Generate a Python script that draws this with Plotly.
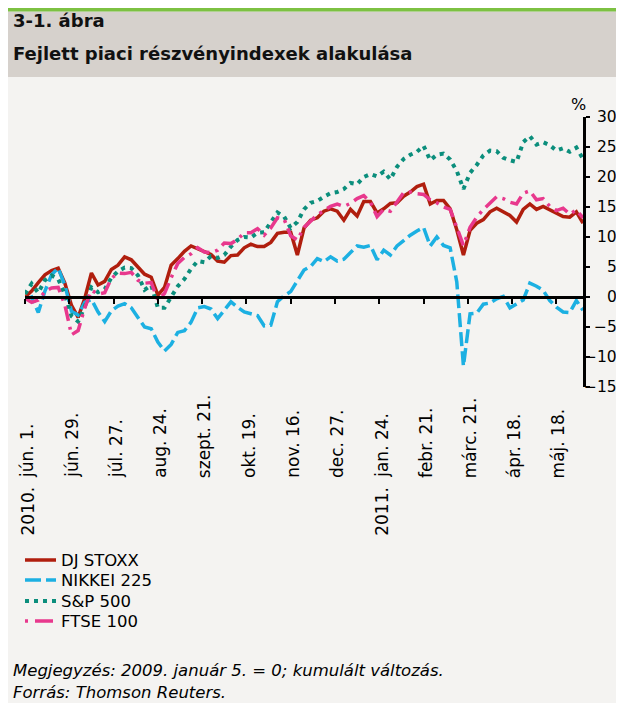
import plotly.graph_objects as go

# trading-day positions (every 3rd trading day, 2010 jún. 1. = 0)
day_index = list(range(0, 253, 3))

dj_stoxx = [
    0, 1, 2.4, 3.7, 4.4, 4.8, 2.3, -1.4, -3.4, -0.2,
    4, 2, 2.6, 4.6, 5.3, 6.7, 6.2, 4.9, 3.8, 3.3,
    0.3, 1.6, 5.3, 6.4, 7.6, 8.5, 8, 7.6, 7.1, 6,
    5.8, 6.9, 7, 8.2, 8.8, 8.4, 8.4, 9.1, 10.6, 10.8,
    10.8, 7, 11.5, 12.8, 13.2, 14.3, 14.7, 14.3, 12.8, 14.6,
    13.5, 15.9, 15.9, 14, 14.7, 15.6, 15.7, 16.8, 17.5, 18.4,
    18.8, 15.5, 16.1, 16.1, 14.7, 11.2, 7.0, 11.1, 12.3, 12.9,
    14.2, 14.8, 14.2, 13.6, 12.5, 14.6, 15.5, 14.6, 15.1, 14.5,
    14, 13.4, 13.3, 14.2, 12.3,
]

nikkei = [
    -0.5, 0, -2.6, 1, 3.7, 4.8, 2, -2.4, -3, -0.9,
    -0.4, -2.5, -4.1, -2.3, -1.5, -1.1, -1.8, -3.5, -5, -5.3,
    -7.5, -9, -7.9, -5.9, -5.6, -4.2, -1.8, -1.6, -2, -3.6,
    -2.3, -0.8, -1.7, -2.5, -2.8, -3.1, -4.8, -4.7, -0.8, 0.2,
    0.9, 2.8, 4.5, 5.1, 6.4, 5.9, 6.7, 6, 6.3, 7.4,
    8.5, 8.3, 8.6, 6.2, 7.8, 7, 8.5, 9.4, 10.3, 11,
    11.6, 8.5, 10, 8.6, 8.2, 2.5, -11.5, -2.8, -2.7, -1.2,
    -1, -0.3, 0.1, -1.8, -1.2, -0.5, 2.3, 1.8, 1.1, -0.6,
    -1.7, -2.5, -2.6, -0.6, -2.2,
]

sp500 = [
    0.5, 2.2, 0.7, 2.8, 3.6, 3, 0.4, -3.2, -4.1, -1.6,
    1.6, 0.8, 1.3, 3.2, 4.3, 4.9, 4.8, 3.6, 1.2, 2,
    -1.8, -1.8, 0, 1.8, 3, 4.7, 6, 5.8, 6.8, 6.5,
    7, 8.4, 9.5, 10, 9.9, 10.7, 10.8, 12.4, 14.1, 13.4,
    11.5, 12.5, 14.6, 15.7, 16, 16.7, 17.3, 17.5, 18, 19,
    18.8, 20, 20.5, 20.1, 20.9, 19.6, 21.7, 23, 23.7, 24.2,
    25.2, 22.8, 23.7, 23.9, 22.9, 21, 18, 20.7, 22, 23.6,
    24.4, 24.3, 23.2, 22.8, 22.5, 25.8, 26.8, 25.4, 25.8, 25.3,
    24.4, 24.8, 24.2, 24.9, 23,
]

ftse100 = [
    -0.2, -0.9, -0.5, 0.9, 1.5, 1.6, -1.3, -6.3, -5.6, -1.8,
    1.1, 0.5, 0.7, 3.1, 4, 3.9, 4.1, 2.8, 2.3, 2.4,
    -0.5, 0.6, 3.2, 5.6, 6.6, 7.2, 8.2, 7.5, 7.4, 7.8,
    9, 8.9, 9.6, 10.7, 10.7, 11.4, 10.3, 11.5, 13.2, 13,
    10.2, 9.5, 11.6, 12.6, 13.7, 14.4, 15.1, 15.5, 15.1, 15.6,
    16.4, 16.9, 15.8, 13.4, 14.6, 14.3, 15.8, 17.4, 17.5, 17.2,
    17.1, 16.2, 15.7, 15, 14.6, 11.5, 8.6, 11.6, 13.3, 14.6,
    15.6, 16.7, 16.4, 15.8, 15.5, 17.3, 17.7, 16.2, 16.4, 15.1,
    14.4, 14.8, 13.8, 14.5, 13.2,
]

series_names = ["DJ STOXX", "NIKKEI 225", "S&P 500", "FTSE 100"]
tick_days = [0, 20, 40, 60, 80, 100, 120, 140, 160, 180, 200, 220, 240]
tick_labels = ["jún. 1.", "jún. 29.", "júl. 27.", "aug. 24.", "szept. 21.",
               "okt. 19.", "nov. 16.", "dec. 27.", "jan. 24.", "febr. 21.",
               "márc. 21.", "ápr. 18.", "máj. 18."]
year_days = [0, 160]
year_labels = ["2010.", "2011."]
y_ticks = [30, 25, 20, 15, 10, 5, 0, -5, -10, -15]

FONT = "DejaVu Sans"
# the page body adds an 8px margin on every side; keep the figure inside the window
OFF = 8
W, H = 624 - 2 * OFF, 711 - 2 * OFF
PL, PR, PT, PB = 25, 583, 117, 387          # plot area in window pixels
MARGIN = dict(l=PL - OFF, r=OFF + W - PR, t=PT - OFF, b=OFF + H - PB, autoexpand=False)


def px_x(p):
    return (p - PL) / (PR - PL)


def px_y(p):
    return (PB - p) / (PB - PT)


styles = [
    dict(color="#B01E0E", width=3.5),
    dict(color="#1CB0E2", width=3.5, dash="14px,5px"),
    dict(color="#0B8E7C", width=4, dash="4px,5px"),
    dict(color="#E8388D", width=3.5, dash="15px,6px,3px,6px"),
]
legend_dash = [None, "16px,5px", "4px,5px", "3px,7px,18px,7px"]

fig = go.Figure()
for name, vals, st in zip(series_names, [dj_stoxx, nikkei, sp500, ftse100], styles):
    fig.add_trace(go.Scatter(x=day_index, y=vals, mode="lines", name=name, line=st))

shapes = [
    dict(type="rect", xref="paper", yref="paper", x0=px_x(OFF), x1=px_x(OFF + W),
         y0=px_y(77), y1=px_y(11.5), fillcolor="#D6D1CC", line=dict(width=0), layer="below"),
    dict(type="rect", xref="paper", yref="paper", x0=px_x(OFF), x1=px_x(OFF + W),
         y0=px_y(11.5), y1=px_y(OFF), fillcolor="#7DC142", line=dict(width=0), layer="below"),
]

ann = [
    dict(text="<b>3-1. ábra</b>", xref="paper", yref="paper", x=px_x(11), y=px_y(21),
         xanchor="left", yanchor="middle", showarrow=False, font=dict(size=18, color="#111")),
    dict(text="<b>Fejlett piaci részvényindexek alakulása</b>", xref="paper", yref="paper",
         x=px_x(11), y=px_y(53), xanchor="left", yanchor="middle", showarrow=False,
         font=dict(size=18, color="#111")),
    dict(text="%", xref="paper", yref="paper", x=px_x(578), y=px_y(104),
         xanchor="center", yanchor="middle", showarrow=False, font=dict(size=16, color="black")),
    dict(text="<i>Megjegyzés: 2009. január 5. = 0; kumulált változás.</i>", xref="paper",
         yref="paper", x=px_x(11), y=px_y(670), xanchor="left", yanchor="middle",
         showarrow=False, font=dict(size=16.5, color="black")),
    dict(text="<i>Forrás: Thomson Reuters.</i>", xref="paper", yref="paper",
         x=px_x(11), y=px_y(692), xanchor="left", yanchor="middle",
         showarrow=False, font=dict(size=16.5, color="black")),
]
for v in y_ticks:
    ann.append(dict(text=str(v).replace("-", "−"), xref="paper", yref="y", x=px_x(619), y=v,
                    xanchor="right", yanchor="middle", showarrow=False,
                    font=dict(size=15.5, color="black")))
for d, t in zip(tick_days, tick_labels):
    ann.append(dict(text=t, xref="x", yref="paper", x=d, y=px_y(480), textangle=-90,
                    xanchor="center", yanchor="bottom", xshift=2, showarrow=False,
                    font=dict(size=17, color="black")))
for d, t in zip(year_days, year_labels):
    ann.append(dict(text=t, xref="x", yref="paper", x=d, y=px_y(485), textangle=-90,
                    xanchor="center", yanchor="top", xshift=2, showarrow=False,
                    font=dict(size=17, color="black")))

# legend drawn as line samples + text
legend_rows = [560, 580, 601, 621]
for name, st, dsh, yy in zip(series_names, styles, legend_dash, legend_rows):
    ln = dict(color=st["color"], width=st["width"])
    if dsh:
        ln["dash"] = dsh
    shapes.append(dict(type="line", xref="paper", yref="paper", x0=px_x(25), x1=px_x(56),
                       y0=px_y(yy), y1=px_y(yy), line=ln))
    ann.append(dict(text=name, xref="paper", yref="paper", x=px_x(59), y=px_y(yy),
                    xanchor="left", yanchor="middle", showarrow=False,
                    font=dict(size=16.5, color="black")))

fig.update_layout(
    width=W, height=H,
    margin=MARGIN,
    paper_bgcolor="#F4F3F1", plot_bgcolor="rgba(0,0,0,0)",
    font=dict(family=FONT, color="black"),
    shapes=shapes, annotations=ann, showlegend=False,
    xaxis=dict(range=[0, 252], anchor="free", position=1 / 3, showline=True,
               linecolor="black", linewidth=2.5, ticks="outside", ticklen=5,
               tickwidth=2, tickcolor="black", tickvals=tick_days,
               showticklabels=False, showgrid=False, zeroline=False),
    yaxis=dict(range=[-15, 30], side="right", anchor="x", showline=True,
               linecolor="black", linewidth=2.5, ticks="outside", ticklen=4,
               tickwidth=2, tickcolor="black", tickvals=y_ticks,
               showticklabels=False, showgrid=False, zeroline=False),
)

fig.write_html("out.html")
